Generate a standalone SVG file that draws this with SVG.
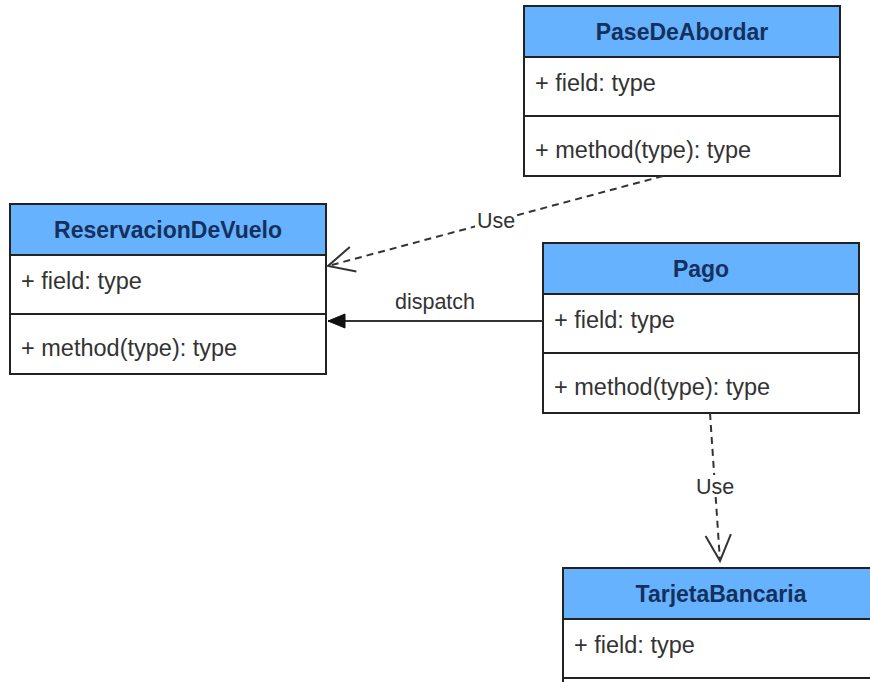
<svg xmlns="http://www.w3.org/2000/svg" width="870" height="682" viewBox="0 0 870 682">
  <style>
    .box { fill: #ffffff; stroke: #222222; stroke-width: 2; }
    .head { fill: #66b2ff; stroke: #222222; stroke-width: 2; }
    .sep { stroke: #222222; stroke-width: 2; }
    .title { font-family: "Liberation Sans", Arial, sans-serif; font-size: 23px; font-weight: bold; fill: #14305c; text-anchor: middle; }
    .member { font-family: "Liberation Sans", Arial, sans-serif; font-size: 23.5px; fill: #333333; }
    .label { font-family: "Liberation Sans", Arial, sans-serif; font-size: 21.5px; fill: #333333; text-anchor: middle; }
    .edge { fill: none; stroke: #333333; stroke-width: 2; }
    .dashed { stroke-dasharray: 7 5; }
  </style>
  <defs>
    <marker id="open-arrow" markerUnits="userSpaceOnUse" viewBox="-30 -16 34 32" markerWidth="34" markerHeight="32" refX="0" refY="0" orient="auto">
      <path d="M -26 -12.7 L 0 0 L -26 12.7" fill="none" stroke="#333333" stroke-width="2" stroke-dasharray="none"/>
    </marker>
    <marker id="block-arrow" markerUnits="userSpaceOnUse" viewBox="-20 -10 22 20" markerWidth="22" markerHeight="20" refX="0" refY="0" orient="auto">
      <path d="M -17 -7 L 0 0 L -17 7 Z" fill="#111111" stroke="#111111" stroke-width="1"/>
    </marker>
  </defs>

  <rect width="870" height="682" fill="#ffffff"/>

  <!-- PaseDeAbordar -->
  <g id="pase-de-abordar">
    <rect class="box" x="524" y="6" width="316" height="170"/>
    <rect class="head" x="524" y="6" width="316" height="51"/>
    <line class="sep" x1="524" y1="116" x2="840" y2="116"/>
    <text class="title" x="682" y="40">PaseDeAbordar</text>
    <text class="member" x="535" y="91">+ field: type</text>
    <text class="member" x="535" y="158">+ method(type): type</text>
  </g>

  <!-- ReservacionDeVuelo -->
  <g id="reservacion-de-vuelo">
    <rect class="box" x="10" y="204" width="316" height="170"/>
    <rect class="head" x="10" y="204" width="316" height="51"/>
    <line class="sep" x1="10" y1="314" x2="326" y2="314"/>
    <text class="title" x="168" y="238">ReservacionDeVuelo</text>
    <text class="member" x="21" y="289">+ field: type</text>
    <text class="member" x="21" y="356">+ method(type): type</text>
  </g>

  <!-- Pago -->
  <g id="pago">
    <rect class="box" x="543" y="243" width="316" height="170"/>
    <rect class="head" x="543" y="243" width="316" height="51"/>
    <line class="sep" x1="543" y1="353" x2="859" y2="353"/>
    <text class="title" x="701" y="277">Pago</text>
    <text class="member" x="554" y="328">+ field: type</text>
    <text class="member" x="554" y="395">+ method(type): type</text>
  </g>

  <!-- TarjetaBancaria -->
  <g id="tarjeta-bancaria">
    <rect class="box" x="563" y="568" width="316" height="170"/>
    <rect class="head" x="563" y="568" width="316" height="51"/>
    <line class="sep" x1="563" y1="678" x2="879" y2="678"/>
    <text class="title" x="721" y="602">TarjetaBancaria</text>
    <text class="member" x="574" y="653">+ field: type</text>
  </g>

  <!-- Connectors -->
  <g id="connectors">
    <!-- PaseDeAbordar uses ReservacionDeVuelo -->
    <path class="edge dashed" d="M 663 176 L 328 266" marker-end="url(#open-arrow)"/>
    <rect x="475" y="211" width="41" height="22" fill="#ffffff"/>
    <text class="label" x="496" y="228">Use</text>

    <!-- Pago dispatches to ReservacionDeVuelo -->
    <path class="edge" d="M 543 321 L 328 321" marker-end="url(#block-arrow)"/>
    <text class="label" x="435" y="309">dispatch</text>

    <!-- Pago uses TarjetaBancaria -->
    <path class="edge dashed" d="M 710 413 L 720 561" marker-end="url(#open-arrow)"/>
    <rect x="695" y="475" width="41" height="22" fill="#ffffff"/>
    <text class="label" x="715" y="494">Use</text>
  </g>
</svg>
